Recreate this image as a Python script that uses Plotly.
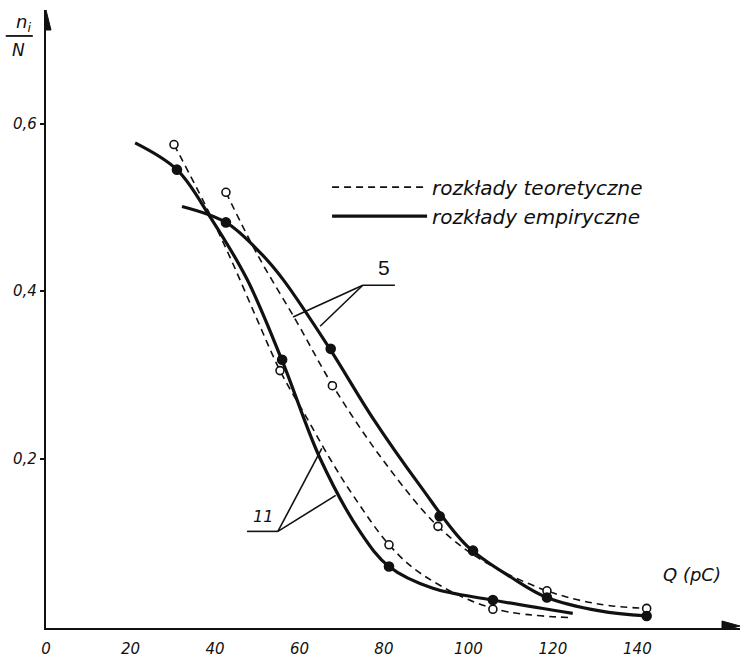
import plotly.graph_objects as go

# ---- data (Q in pC, n_i/N) ----
# curve 11, empirical (solid) path and measured points
e11_x = [21.1, 31.0, 38.8, 47.6, 55.9, 64.9, 74.3, 81.2, 91.6, 105.8, 124.7]
e11_y = [0.577, 0.545, 0.489, 0.414, 0.317, 0.200, 0.113, 0.071, 0.045, 0.031, 0.015]
e11_px = [31.0, 55.9, 81.2, 105.8]
e11_py = [0.545, 0.318, 0.071, 0.031]

# curve 11, theoretical (dashed) path and points
t11_x = [30.3, 37.6, 43.6, 49.9, 55.4, 61.8, 67.2, 72.7, 81.4, 89.2, 105.8, 124.7]
t11_y = [0.575, 0.504, 0.440, 0.367, 0.305, 0.248, 0.200, 0.156, 0.096, 0.061, 0.021, 0.010]
t11_px = [30.3, 55.4, 81.2, 105.8]
t11_py = [0.575, 0.305, 0.097, 0.020]

# curve 5, empirical (solid) path and points
e5_x = [32.2, 42.6, 50.7, 56.1, 67.2, 77.4, 88.5, 99.6, 110.5, 118.6, 131.1, 142.2]
e5_y = [0.501, 0.482, 0.446, 0.414, 0.331, 0.248, 0.168, 0.096, 0.057, 0.034, 0.018, 0.012]
e5_px = [42.6, 67.4, 93.2, 101.1, 118.6, 142.2]
e5_py = [0.482, 0.331, 0.131, 0.090, 0.034, 0.012]

# curve 5, theoretical (dashed) path and points
t5_x = [42.6, 50.0, 59.4, 67.9, 79.8, 92.8, 103.4, 118.6, 131.1, 142.2]
t5_y = [0.518, 0.444, 0.363, 0.287, 0.198, 0.119, 0.078, 0.042, 0.026, 0.021]
t5_px = [42.6, 67.8, 92.8, 118.6, 142.2]
t5_py = [0.518, 0.287, 0.119, 0.042, 0.021]

x_ticks = [0, 20, 40, 60, 80, 100, 120, 140]
y_ticks = [0.2, 0.4, 0.6]
y_tick_text = ["0,2", "0,4", "0,6"]

legend_theor = "rozkłady teoretyczne"
legend_emp = "rozkłady empiryczne"

FONT = "DejaVu Sans"
BLACK = "#111111"

fig = go.Figure()

def curve(x, y, dashed, name=None, show=False, rank=1):
    fig.add_trace(go.Scatter(
        x=x, y=y, mode="lines", name=name, showlegend=show, legendrank=rank,
        line=dict(color=BLACK, width=1.6 if dashed else 3.2,
                  dash="7px,5px" if dashed else "solid",
                  shape="spline", smoothing=1.0),
        hoverinfo="skip"))

def points(x, y, filled):
    fig.add_trace(go.Scatter(
        x=x, y=y, mode="markers", showlegend=False,
        marker=dict(symbol="circle", size=9 if filled else 8,
                    color=BLACK if filled else "white",
                    line=dict(color=BLACK, width=1.6))))

curve(t11_x, t11_y, True)
curve(t5_x, t5_y, True, legend_theor, True, 1)
curve(e11_x, e11_y, False)
curve(e5_x, e5_y, False, legend_emp, True, 2)
points(t11_px, t11_py, False)
points(t5_px, t5_py, False)
points(e11_px, e11_py, True)
points(e5_px, e5_py, True)

# label leaders (5 and 11)
leaders = [
    (75.0, 0.407, 82.6, 0.407), (75.0, 0.407, 58.5, 0.369), (75.0, 0.407, 64.9, 0.358),
    (47.6, 0.113, 54.9, 0.113), (54.9, 0.113, 65.3, 0.212), (54.9, 0.113, 68.6, 0.156),
]
for x0, y0, x1, y1 in leaders:
    fig.add_shape(type="line", x0=x0, y0=y0, x1=x1, y1=y1, xref="x", yref="y",
                  line=dict(color=BLACK, width=1.6))

fig.add_annotation(x=79.9, y=0.428, text="5", showarrow=False, xref="x", yref="y",
                   xanchor="center", yanchor="middle",
                   font=dict(family="Liberation Sans", size=21, color=BLACK))
fig.add_annotation(x=51.4, y=0.131, text="11", showarrow=False, xref="x", yref="y",
                   xanchor="center", yanchor="middle",
                   font=dict(family=FONT, size=16, color=BLACK, style="italic"))

# axis arrowheads (pixel-sized paths anchored at the axis ends)
fig.add_shape(type="path", xref="x", yref="y", xsizemode="pixel", ysizemode="pixel",
              xanchor=164.3, yanchor=0, path="M 0 0 L -18 5 L -18 -5 Z",
              fillcolor=BLACK, line=dict(color=BLACK, width=1))
fig.add_shape(type="path", xref="x", yref="y", xsizemode="pixel", ysizemode="pixel",
              xanchor=0, yanchor=0.7357, path="M 0 0 L -5 -20 L 5 -20 Z",
              fillcolor=BLACK, line=dict(color=BLACK, width=1))

# y-axis title  n_i / N
fig.add_annotation(x=-0.033, y=0.979, xref="paper", yref="paper", text="n<sub>i</sub>",
                   showarrow=False, xanchor="center", yanchor="middle",
                   font=dict(family=FONT, size=18, color=BLACK, style="italic"))
fig.add_annotation(x=-0.040, y=0.935, xref="paper", yref="paper", text="N",
                   showarrow=False, xanchor="center", yanchor="middle",
                   font=dict(family=FONT, size=17, color=BLACK, style="italic"))
fig.add_shape(type="line", xref="paper", yref="paper", x0=-0.058, x1=-0.019, y0=0.958, y1=0.958,
              line=dict(color=BLACK, width=1.8))

# x-axis title
fig.add_annotation(x=0.931, y=0.086, xref="paper", yref="paper", text="Q (pC)",
                   showarrow=False, xanchor="center", yanchor="middle",
                   font=dict(family=FONT, size=18, color=BLACK, style="italic"))

fig.update_layout(
    width=744, height=662,
    margin=dict(l=46, r=4, t=10, b=32),
    paper_bgcolor="white", plot_bgcolor="white",
    showlegend=True,
    legend=dict(x=0.405, y=0.745, xanchor="left", yanchor="top",
                bgcolor="rgba(0,0,0,0)", itemwidth=95,
                font=dict(family=FONT, size=20, color=BLACK, style="italic"),
                tracegroupgap=0),
    xaxis=dict(range=[0, 164.3], showgrid=False, zeroline=False,
               showline=True, linecolor=BLACK, linewidth=2.4,
               tickvals=x_ticks, ticks="", ticklabelstandoff=6,
               tickfont=dict(family=FONT, size=15, color=BLACK, style="italic")),
    yaxis=dict(range=[-0.0024, 0.7357], showgrid=False, zeroline=False,
               showline=True, linecolor=BLACK, linewidth=2.4,
               tickvals=y_ticks, ticktext=y_tick_text, ticks="outside", ticklen=4,
               tickcolor=BLACK, tickwidth=1.5,
               tickfont=dict(family=FONT, size=15, color=BLACK, style="italic")),
)

fig.write_html("out.html")
